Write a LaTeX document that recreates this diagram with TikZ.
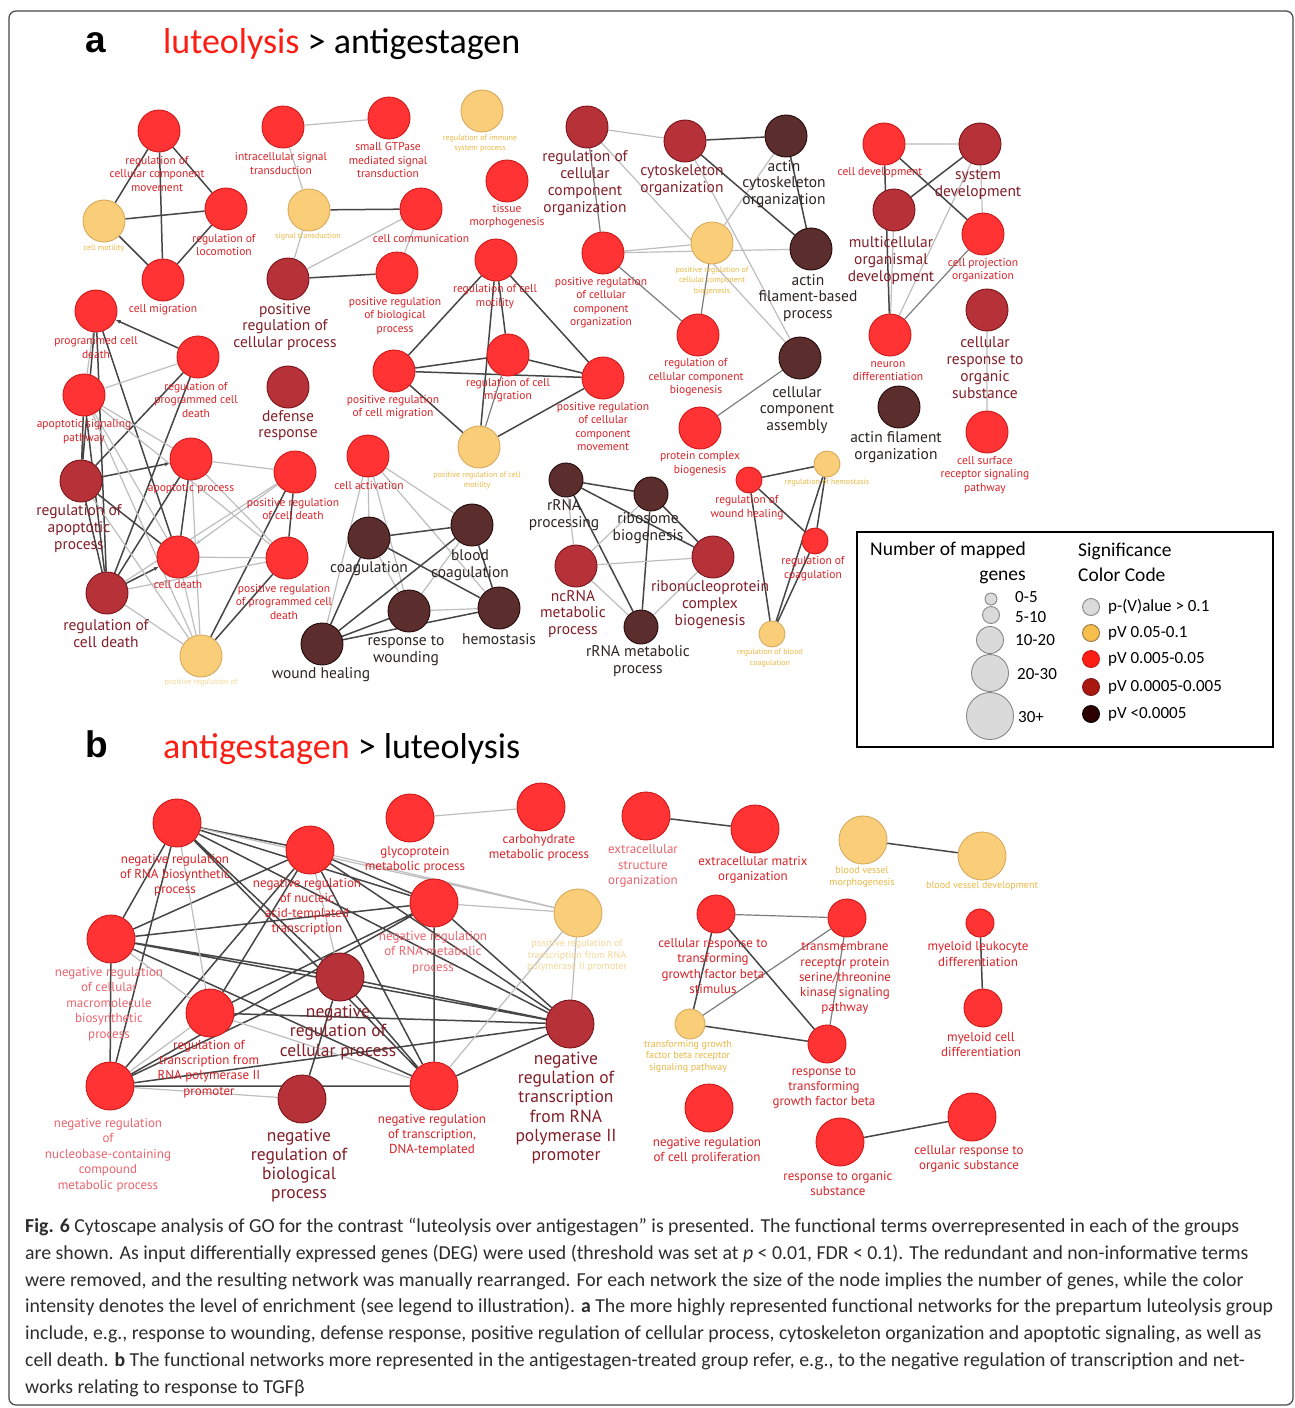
\documentclass[tikz,border=0pt]{standalone}
\usepackage{fontspec}
\usepackage{tikz}
\usetikzlibrary{arrows.meta,backgrounds}
\newfontfamily\lblfont{PT Sans}
\newfontfamily\capfont{Carlito}
\newfontfamily\hdfont{Liberation Sans}
\definecolor{csred}{RGB}{255,51,51}
\definecolor{csredline}{RGB}{205,25,25}
\definecolor{csdred}{RGB}{183,50,56}
\definecolor{csdredline}{RGB}{120,20,25}
\definecolor{csdark}{RGB}{92,45,45}
\definecolor{csdarkline}{RGB}{35,10,10}
\definecolor{csyel}{RGB}{250,205,120}
\definecolor{csyelline}{RGB}{215,170,95}
\definecolor{cstxtred}{RGB}{215,35,40}
\definecolor{cstxtdred}{RGB}{130,30,40}
\definecolor{cstxtdark}{RGB}{45,35,35}
\definecolor{cstxtyel}{RGB}{235,185,70}
\definecolor{cstxtpale}{RGB}{245,215,150}
\definecolor{cstxtpink}{RGB}{235,100,110}
\definecolor{csedge}{RGB}{70,70,70}
\definecolor{csedgemid}{RGB}{125,125,125}
\definecolor{csedgelt}{RGB}{190,190,190}
\definecolor{csgray}{RGB}{218,218,218}
\definecolor{csgrayline}{RGB}{135,135,135}
\definecolor{cslgyel}{RGB}{247,190,75}
\definecolor{cslgred}{RGB}{250,30,20}
\definecolor{cslgdred}{RGB}{170,25,15}
\definecolor{cslgdark}{RGB}{45,0,0}
\definecolor{cscap}{RGB}{45,45,45}

\begin{document}
\begin{tikzpicture}[x=1pt,y=-1pt,
  go/.style={circle,inner sep=0pt,line width=0.9pt,minimum size=42pt},
  nR/.style={go,fill=csred,draw=csredline},
  nD/.style={go,fill=csdred,draw=csdredline},
  nK/.style={go,fill=csdark,draw=csdarkline},
  nY/.style={go,fill=csyel,draw=csyelline},
  lb/.style={align=center,inner sep=0pt},
  tR/.style={lb,text=cstxtred,font=\lblfont\fontsize{11.5}{13.5}\selectfont},
  tD/.style={lb,text=cstxtdred,font=\lblfont\fontsize{15.5}{16.8}\selectfont},
  tK/.style={lb,text=cstxtdark,font=\lblfont\fontsize{15.5}{16.8}\selectfont},
  tY/.style={lb,text=cstxtyel,font=\lblfont\fontsize{8}{10.5}\selectfont},
  bR/.style={lb,text=cstxtred,font=\lblfont\fontsize{13}{15.2}\selectfont},
  bP/.style={lb,text=cstxtpink,font=\lblfont\fontsize{13}{15.4}\selectfont},
  bD/.style={lb,text=cstxtdred,font=\lblfont\fontsize{17.5}{19.3}\selectfont},
  bY/.style={lb,text=cstxtyel,font=\lblfont\fontsize{10}{11.7}\selectfont},
  lgG/.style={circle,inner sep=0pt,fill=csgray,draw=csgrayline,line width=0.9pt},
  lgC/.style={circle,inner sep=0pt,minimum size=17pt,line width=0.9pt},
  lgT/.style={anchor=west,inner sep=0pt,font=\capfont\fontsize{17}{18}\selectfont},
  ek/.style={line width=1.5pt,draw=csedge},
  eg/.style={line width=1.2pt,draw=csedgemid},
  el/.style={line width=1.2pt,draw=csedgelt},
  ar/.style={-{Latex[length=5pt,width=4pt]}}]

  \begin{pgfonlayer}{background}
    \fill[white] (0,0) rectangle (1295,1408);
  \end{pgfonlayer}
  \useasboundingbox (0,0) rectangle (1295,1408);
  \draw[rounded corners=7pt,line width=1.2pt,csedge] (9,11) rectangle (1293,1405);

  % Headings
  \node[font=\hdfont\bfseries\fontsize{37}{37}\selectfont,anchor=base west,inner sep=0pt] (heada) at (85,52) {a};
  \node[font=\capfont\fontsize{36}{36}\selectfont,anchor=base west,inner sep=0pt] (titlea) at (163,53)
    {\textcolor{cslgred}{luteolysis} > antigestagen};
  \node[font=\hdfont\bfseries\fontsize{37}{37}\selectfont,anchor=base west,inner sep=0pt] (headb) at (85,757) {b};
  \node[font=\capfont\fontsize{36}{36}\selectfont,anchor=base west,inner sep=0pt] (titleb) at (163,758)
    {\textcolor{cslgred}{antigestagen} > luteolysis};

  % Panel a: nodes
  \node[nR] (regmove) at (159,131) {};
  \node[nY] (cellmot) at (104,221) {};
  \node[nR] (regloc) at (226,209) {};
  \node[nR] (cellmig) at (163,280) {};
  \node[nR] (intrasig) at (283,127) {};
  \node[nR] (smallgtp) at (389,118) {};
  \node[nY] (regimm) at (482,111) {};
  \node[nY] (sigtrans) at (309,210) {};
  \node[nR] (cellcomm) at (421,209) {};
  \node[nR] (tissue) at (507,181) {};
  \node[nD] (posregcp) at (288,279) {};
  \node[nR] (posregbio) at (397,273) {};
  \node[nD] (defense) at (288,387) {};
  \node[nR] (progcd) at (96,311) {};
  \node[nR] (regprogcd) at (198,357) {};
  \node[nR] (apopsig) at (84,395) {};
  \node[nD] (regapop) at (81,481) {};
  \node[nR] (apopproc) at (191,459) {};
  \node[nR] (posregcd) at (295,472) {};
  \node[nR] (celldeath) at (178,557) {};
  \node[nR] (posregpcd) at (287,558) {};
  \node[nD] (regcd) at (107,593) {};
  \node[nY] (posregof) at (201,656) {};
  \node[nR] (regcellmot) at (496,260) {};
  \node[nR] (regcellmig) at (508,355) {};
  \node[nR] (posregcellmig) at (394,371) {};
  \node[nY] (posregmot) at (479,447) {};
  \node[nR] (posregccmove) at (603,378) {};
  \node[nD] (regccorg) at (587,127) {};
  \node[nD] (cytoskel) at (685,141) {};
  \node[nK] (actincyto) at (786,136) {};
  \node[nY] (posregccb) at (712,243) {};
  \node[nK] (actinfil) at (811,249) {};
  \node[nR] (posregccorg) at (603,253) {};
  \node[nR] (regccb) at (698,335) {};
  \node[nK] (cellcompass) at (800,358) {};
  \node[nR] (protcomp) at (700,428) {};
  \node[nR] (celldev) at (884,144) {};
  \node[nD] (sysdev) at (980,144) {};
  \node[nD] (multidev) at (894,210) {};
  \node[nR] (cellproj) at (983,234) {};
  \node[nR] (neuron) at (890,335) {};
  \node[nD] (cellresp) at (987,310) {};
  \node[nK] (actinfilorg) at (899,407) {};
  \node[nR] (cellsurf) at (987,432) {};
  \node[nR] (cellact) at (368,456) {};
  \node[nK] (coag) at (369,538) {};
  \node[nK] (blood) at (472,525) {};
  \node[nK] (resp2wound) at (409,611) {};
  \node[nK] (hemostasis) at (499,608) {};
  \node[nK] (woundheal) at (322,644) {};
  \node[nK,minimum size=34pt] (rrnaproc) at (566,480) {};
  \node[nK,minimum size=34pt] (ribo) at (651,494) {};
  \node[nD] (ncrna) at (576,566) {};
  \node[nD] (ribonuc) at (713,557) {};
  \node[nK,minimum size=34pt] (rrnamet) at (641,627) {};
  \node[nR,minimum size=26pt] (regwound) at (749,480) {};
  \node[nY,minimum size=26pt] (reghemo) at (827,464) {};
  \node[nR,minimum size=26pt] (regcoag) at (815,541) {};
  \node[nY,minimum size=26pt] (regblood) at (772,634) {};

  % Panel a: labels
  \node[tR] (regmove-l) at (157,173.5) {regulation of\\cellular component\\movement};
  \node[tY] (cellmot-l) at (104,248) {cell motility};
  \node[tR] (regloc-l) at (224,245) {regulation of\\locomotion};
  \node[tR] (cellmig-l) at (163,310) {cell migration};
  \node[tR] (intrasig-l) at (281,163.5) {intracellular signal\\transduction};
  \node[tR] (smallgtp-l) at (388,160) {small GTPase\\mediated signal\\transduction};
  \node[tY] (regimm-l) at (480,143.5) {regulation of immune\\system process};
  \node[tY] (sigtrans-l) at (308,237) {signal transduction};
  \node[tR] (cellcomm-l) at (421,238) {cell communication};
  \node[tR] (tissue-l) at (507,216) {tissue\\morphogenesis};
  \node[tD] (posregcp-l) at (285,327) {positive\\regulation of\\cellular process};
  \node[tR] (posregbio-l) at (395,316) {positive regulation\\of biological\\process};
  \node[tD] (defense-l) at (288,425.5) {defense\\response};
  \node[tR] (progcd-l) at (96,347.5) {programmed cell\\death};
  \node[tR] (regprogcd-l) at (196,399.5) {regulation of\\programmed cell\\death};
  \node[tR] (apopsig-l) at (84,431.5) {apoptotic signaling\\pathway};
  \node[tD] (regapop-l) at (79,528.5) {regulation of\\apoptotic\\process};
  \node[tR] (apopproc-l) at (191,489) {apoptotic process};
  \node[tR] (posregcd-l) at (293,509) {positive regulation\\of cell death};
  \node[tR] (celldeath-l) at (178,585) {cell death};
  \node[tR] (posregpcd-l) at (284,601.5) {positive regulation\\of programmed cell\\death};
  \node[tD] (regcd-l) at (106,633.5) {regulation of\\cell death};
  \node[tY,text=cstxtpale] (posregof-l) at (201,683) {positive regulation of};
  \node[tR] (regcellmot-l) at (495,296.5) {regulation of cell\\motility};
  \node[tR] (regcellmig-l) at (508,390) {regulation of cell\\migration};
  \node[tR] (posregcellmig-l) at (393,407) {positive regulation\\of cell migration};
  \node[tY] (posregmot-l) at (477,480.5) {positive regulation of cell\\motility};
  \node[tR] (posregccmove-l) at (603,426.5) {positive regulation\\of cellular\\component\\movement};
  \node[tD] (regccorg-l) at (585,183) {regulation of\\cellular\\component\\organization};
  \node[tD] (cytoskel-l) at (682,180.5) {cytoskeleton\\organization};
  \node[tK] (actincyto-l) at (784,184) {actin\\cytoskeleton\\organization};
  \node[tY] (posregccb-l) at (712,281) {positive regulation of\\cellular component\\biogenesis};
  \node[tK] (actinfil-l) at (808,298) {actin\\filament-based\\process};
  \node[tR] (posregccorg-l) at (601,302.5) {positive regulation\\of cellular\\component\\organization};
  \node[tR] (regccb-l) at (696,377.5) {regulation of\\cellular component\\biogenesis};
  \node[tK] (cellcompass-l) at (797,410) {cellular\\component\\assembly};
  \node[tR] (protcomp-l) at (700,463.5) {protein complex\\biogenesis};
  \node[tR] (celldev-l) at (880,173) {cell development};
  \node[tD] (sysdev-l) at (978,185) {system\\development};
  \node[tD] (multidev-l) at (891,260.5) {multicellular\\organismal\\development};
  \node[tR] (cellproj-l) at (983,270) {cell projection\\organization};
  \node[tR] (neuron-l) at (888,371) {neuron\\differentiation};
  \node[tD] (cellresp-l) at (985,367.5) {cellular\\response to\\organic\\substance};
  \node[tK] (actinfilorg-l) at (896,447.5) {actin filament\\organization};
  \node[tR] (cellsurf-l) at (985,475) {cell surface\\receptor signaling\\pathway};
  \node[tR] (cellact-l) at (369,485) {cell activation};
  \node[tK] (coag-l) at (369,569) {coagulation};
  \node[tK] (blood-l) at (470,565.5) {blood\\coagulation};
  \node[tK] (resp2wound-l) at (406,650.5) {response to\\wounding};
  \node[tK] (hemostasis-l) at (499,639) {hemostasis};
  \node[tK] (woundheal-l) at (321,675) {wound healing};
  \node[tK] (rrnaproc-l) at (564,515.5) {rRNA\\processing};
  \node[tK] (ribo-l) at (648,528.5) {ribosome\\biogenesis};
  \node[tD] (ncrna-l) at (573,614) {ncRNA\\metabolic\\process};
  \node[tD] (ribonuc-l) at (710,604.5) {ribonucleoprotein\\complex\\biogenesis};
  \node[tK] (rrnamet-l) at (638,661) {rRNA metabolic\\process};
  \node[tR] (regwound-l) at (747,507.5) {regulation of\\wound healing};
  \node[tY] (reghemo-l) at (827,483) {regulation of hemostasis};
  \node[tR] (regcoag-l) at (813,568.5) {regulation of\\coagulation};
  \node[tY] (regblood-l) at (770,658) {regulation of blood\\coagulation};

  % Panel a: edges
  \begin{pgfonlayer}{background}
    \draw[ek] (regmove) -- (cellmot) (regmove) -- (regloc) (regmove) -- (cellmig)
      (cellmot) -- (regloc) (cellmot) -- (cellmig) (regloc) -- (cellmig);
    \draw[el] (intrasig) -- (smallgtp) (intrasig) -- (sigtrans) (sigtrans) -- (posregcp)
      (cellcomm) -- (posregcp) (cellcomm) -- (posregbio);
    \draw[ek] (sigtrans) -- (cellcomm) (posregcp) -- (posregbio);
    \draw[ek] (regcellmot) -- (posregcellmig) (regcellmot) -- (regcellmig) (regcellmot) -- (posregmot)
      (regcellmot) -- (posregccmove) (posregcellmig) -- (regcellmig) (posregcellmig) -- (posregccmove)
      (posregcellmig) -- (posregmot) (regcellmig) -- (posregccmove) (posregmot) -- (posregccmove);
    \draw[eg] (regcellmig) -- (posregmot);
    \draw[el] (regccorg) -- (cytoskel) (regccorg) -- (cellcompass) (cytoskel) -- (cellcompass)
      (actincyto) -- (posregccb) (posregccorg) -- (posregccb) (posregccorg) -- (actinfil);
    \draw[eg] (regccorg) -- (posregccorg) (posregccorg) -- (regccb) (cellcompass) -- (protcomp)
      (posregccb) -- (regccb);
    \draw[ek] (cytoskel) -- (actincyto) (cytoskel) -- (actinfil) (actincyto) -- (actinfil);
    \draw[el] (celldev) -- (sysdev) (sysdev) -- (cellproj) (sysdev) -- (neuron) (multidev) -- (neuron)
      (cellresp) -- (cellsurf);
    \draw[ek] (celldev) -- (neuron) (sysdev) -- (multidev) (celldev) -- (cellproj);
    \draw[eg] (cellproj) -- (neuron);
    % apoptosis cluster
    \draw[ek,ar] (regprogcd) -- (progcd);
    \draw[ek,ar] (regapop) -- (apopproc);
    \draw[el,ar] (posregcd) -- (celldeath);
    \draw[ek,ar] (regcd) -- (celldeath);
    \draw[ek] (progcd) -- (regapop) (progcd) -- (regcd) (progcd) -- (celldeath)
      (regprogcd) -- (regapop) (regprogcd) -- (regcd) (apopsig) -- (regapop) (apopsig) -- (regcd)
      (regapop) -- (celldeath) (regapop) -- (regcd) (apopproc) -- (celldeath) (apopproc) -- (regcd)
      (posregcd) -- (posregpcd) (posregcd) -- (posregof) (posregpcd) -- (posregof);
    \draw[el] (progcd) -- (apopsig) (regprogcd) -- (apopsig) (apopsig) -- (apopproc)
      (apopsig) -- (celldeath) (apopsig) -- (posregof) (apopsig) -- (posregpcd)
      (regapop) -- (posregof) (apopproc) -- (posregcd) (apopproc) -- (posregpcd)
      (apopproc) -- (posregof) (posregcd) -- (regcd) (celldeath) -- (posregpcd)
      (celldeath) -- (posregof) (posregpcd) -- (regcd) (regcd) -- (posregof);
    % coagulation cluster
    \draw[el] (cellact) -- (coag) (cellact) -- (woundheal) (cellact) -- (resp2wound)
      (cellact) -- (blood) (cellact) -- (hemostasis) (coag) -- (resp2wound)
      (blood) -- (resp2wound) (resp2wound) -- (hemostasis);
    \draw[ek] (coag) -- (blood) (coag) -- (hemostasis) (coag) -- (woundheal)
      (blood) -- (woundheal) (blood) -- (hemostasis) (woundheal) -- (resp2wound)
      (woundheal) -- (hemostasis);
    % rRNA cluster
    \draw[ek] (rrnaproc) -- (ribo) (rrnaproc) -- (rrnamet) (rrnaproc) -- (ribonuc)
      (ribo) -- (rrnamet) (ribo) -- (ribonuc);
    \draw[el] (rrnaproc) -- (ncrna) (ribo) -- (ncrna) (ncrna) -- (ribonuc) (ncrna) -- (rrnamet)
      (ribonuc) -- (rrnamet);
    \draw[ek] (regwound) -- (reghemo) (regwound) -- (regcoag) (regwound) -- (regblood)
      (reghemo) -- (regcoag) (reghemo) -- (regblood) (regcoag) -- (regblood);
  \end{pgfonlayer}

  % Legend
  \draw[line width=2.5pt] (857,532) rectangle (1273,747);
  \node[font=\capfont\fontsize{19.5}{25}\selectfont,align=right,inner sep=0pt] (lgsize) at (948,562.5)
    {Number of mapped\\genes};
  \node[font=\capfont\fontsize{19.5}{25}\selectfont,align=left,anchor=west,inner sep=0pt] (lgcol) at (1078,562.5)
    {Significance\\Color Code};
  \node[lgG,minimum size=12pt] (sz1) at (991,599) {};
  \node[lgG,minimum size=17pt] (sz2) at (991,615) {};
  \node[lgG,minimum size=27pt] (sz3) at (990,640) {};
  \node[lgG,minimum size=37pt] (sz4) at (990,673) {};
  \node[lgG,minimum size=47pt] (sz5) at (990,716) {};
  \node[lgT] (sz1-l) at (1015,597) {0-5};
  \node[lgT] (sz2-l) at (1015,617) {5-10};
  \node[lgT] (sz3-l) at (1015,640) {10-20};
  \node[lgT] (sz4-l) at (1017,674) {20-30};
  \node[lgT] (sz5-l) at (1018,717) {30+};
  \node[lgC,fill=csgray,draw=csgrayline] (col1) at (1091,607) {};
  \node[lgC,fill=cslgyel,draw=csyelline!70!black] (col2) at (1091,633) {};
  \node[lgC,fill=cslgred,draw=csredline] (col3) at (1091,659) {};
  \node[lgC,fill=cslgdred,draw=csdredline] (col4) at (1091,687) {};
  \node[lgC,fill=cslgdark,draw=black] (col5) at (1091,714) {};
  \node[lgT] (col1-l) at (1108,607) {p-(V)alue > 0.1};
  \node[lgT] (col2-l) at (1108,633) {pV 0.05-0.1};
  \node[lgT] (col3-l) at (1108,659) {pV 0.005-0.05};
  \node[lgT] (col4-l) at (1108,687) {pV 0.0005-0.005};
  \node[lgT] (col5-l) at (1108,714) {pV <0.0005};

  % Panel b: nodes
  \node[nR,minimum size=48pt] (negrnabio) at (177,823) {};
  \node[nR,minimum size=48pt] (negnucleic) at (310,850) {};
  \node[nR,minimum size=48pt] (glycoprot) at (410,818) {};
  \node[nR,minimum size=48pt] (carbo) at (541,807) {};
  \node[nR,minimum size=48pt] (negrnamet) at (434,903) {};
  \node[nY,minimum size=48pt] (posregtx) at (578,913) {};
  \node[nR,minimum size=48pt] (negmacro) at (111,939) {};
  \node[nD,minimum size=48pt] (negcell) at (340,977) {};
  \node[nR,minimum size=48pt] (regtxpol) at (210,1013) {};
  \node[nD,minimum size=48pt] (negtxpol) at (570,1024) {};
  \node[nR,minimum size=48pt] (negnucbase) at (110,1086) {};
  \node[nD,minimum size=48pt] (negbio) at (302,1099) {};
  \node[nR,minimum size=48pt] (negtxdna) at (434,1086) {};
  \node[nR,minimum size=48pt] (extrastruct) at (646,816) {};
  \node[nR,minimum size=48pt] (extramatrix) at (755,829) {};
  \node[nY,minimum size=48pt] (bvmorph) at (863,840) {};
  \node[nY,minimum size=48pt] (bvdev) at (982,856) {};
  \node[nR,minimum size=38pt] (cellresptgf) at (716,914) {};
  \node[nR,minimum size=38pt] (transmem) at (847,918) {};
  \node[nR,minimum size=28pt] (myleuk) at (980,923) {};
  \node[nY,minimum size=30pt] (tgfbrec) at (690,1024) {};
  \node[nR,minimum size=38pt] (resptgf) at (827,1044) {};
  \node[nR,minimum size=38pt] (mycell) at (983,1008) {};
  \node[nR,minimum size=48pt] (negprolif) at (709,1108) {};
  \node[nR,minimum size=48pt] (resporg) at (840,1142) {};
  \node[nR,minimum size=48pt] (cellresporg) at (972,1117) {};

  % Panel b: labels
  \node[bR] (negrnabio-l) at (175,875) {negative regulation\\of RNA biosynthetic\\process};
  \node[bR] (negnucleic-l) at (307,906.5) {negative regulation\\of nucleic\\acid-templated\\transcription};
  \node[bR] (glycoprot-l) at (415,859.5) {glycoprotein\\metabolic process};
  \node[bR] (carbo-l) at (539,847.5) {carbohydrate\\metabolic process};
  \node[bP] (negrnamet-l) at (433,952.5) {negative regulation\\of RNA metabolic\\process};
  \node[bY,text=cstxtpale] (posregtx-l) at (577,955.5) {positive regulation of\\transcription from RNA\\polymerase II promoter};
  \node[bP] (negmacro-l) at (109,1004) {negative regulation\\of cellular\\macromolecule\\biosynthetic\\process};
  \node[bD] (negcell-l) at (338,1032.5) {negative\\regulation of\\cellular process};
  \node[bR] (regtxpol-l) at (209,1069) {regulation of\\transcription from\\RNA polymerase II\\promoter};
  \node[bD] (negtxpol-l) at (566,1108) {negative\\regulation of\\transcription\\from RNA\\polymerase II\\promoter};
  \node[bP] (negnucbase-l) at (108,1155) {negative regulation\\of\\nucleobase-containing\\compound\\metabolic process};
  \node[bD] (negbio-l) at (299,1165.5) {negative\\regulation of\\biological\\process};
  \node[bR] (negtxdna-l) at (432,1135) {negative regulation\\of transcription,\\DNA-templated};
  \node[bP] (extrastruct-l) at (643,866) {extracellular\\structure\\organization};
  \node[bR] (extramatrix-l) at (753,870) {extracellular matrix\\organization};
  \node[bY] (bvmorph-l) at (862,877) {blood vessel\\morphogenesis};
  \node[bY] (bvdev-l) at (982,886) {blood vessel development};
  \node[bR] (cellresptgf-l) at (713,966) {cellular response to\\transforming\\growth factor beta\\stimulus};
  \node[bR] (transmem-l) at (845,978) {transmembrane\\receptor protein\\serine/threonine\\kinase signaling\\pathway};
  \node[bR] (myleuk-l) at (978,954) {myeloid leukocyte\\differentiation};
  \node[bY] (tgfbrec-l) at (688,1056.5) {transforming growth\\factor beta receptor\\signaling pathway};
  \node[bR] (resptgf-l) at (824,1088) {response to\\transforming\\growth factor beta};
  \node[bR] (mycell-l) at (981,1044.5) {myeloid cell\\differentiation};
  \node[bR] (negprolif-l) at (707,1150.5) {negative regulation\\of cell proliferation};
  \node[bR] (resporg-l) at (838,1183.5) {response to organic\\substance};
  \node[bR] (cellresporg-l) at (969,1158.5) {cellular response to\\organic substance};

  % Panel b: edges
  \begin{pgfonlayer}{background}
    \draw[el] (glycoprot) -- (carbo);
    \draw[ek] (extrastruct) -- (extramatrix) (bvmorph) -- (bvdev) (myleuk) -- (mycell)
      (resporg) -- (cellresporg);
    \draw[eg] (cellresptgf) -- (transmem) (transmem) -- (tgfbrec) (transmem) -- (resptgf);
    \draw[ek] (cellresptgf) -- (tgfbrec) (cellresptgf) -- (resptgf) (tgfbrec) -- (resptgf);
    \draw[ek] (negrnabio) -- (negnucleic) (negrnabio) -- (negrnamet) (negrnabio) -- (negmacro)
      (negrnabio) -- (negnucbase) (negrnabio) -- (negtxdna) (negrnabio) -- (negtxpol)
      (negrnabio) -- (negcell) (negnucleic) -- (negrnamet) (negnucleic) -- (negmacro)
      (negnucleic) -- (negnucbase) (negnucleic) -- (negtxpol) (negnucleic) -- (negtxdna)
      (negnucleic) -- (regtxpol) (negrnamet) -- (negmacro) (negrnamet) -- (negnucbase)
      (negrnamet) -- (regtxpol) (negrnamet) -- (negtxdna) (negrnamet) -- (negtxpol)
      (negmacro) -- (negcell) (negmacro) -- (negtxpol) (negmacro) -- (negtxdna)
      (negmacro) -- (negnucbase) (negcell) -- (negnucbase) (negcell) -- (negtxpol)
      (negcell) -- (negbio) (negcell) -- (negtxdna) (regtxpol) -- (negtxpol)
      (negtxpol) -- (negtxdna) (negnucbase) -- (negtxdna) (negnucbase) -- (negtxpol);
    \draw[el] (negrnabio) -- (regtxpol) (negrnabio) -- (posregtx) (negnucleic) -- (negcell)
      (negnucleic) -- (posregtx) (negrnamet) -- (posregtx) (negmacro) -- (regtxpol)
      (regtxpol) -- (negnucbase) (regtxpol) -- (negtxdna) (negtxdna) -- (posregtx)
      (negtxpol) -- (posregtx) (negnucbase) -- (negbio);
  \end{pgfonlayer}

  % Caption
  \node[font=\capfont\fontsize{19.8}{26.8}\selectfont,text=cscap,anchor=north west,align=left,inner sep=0pt] (caption) at (25,1218)
    {\textbf{Fig. 6} Cytoscape analysis of GO for the contrast “luteolysis over antigestagen” is presented. The functional terms overrepresented in each of the groups\\
     are shown. As input differentially expressed genes (DEG) were used (threshold was set at \textit{p} < 0.01, FDR < 0.1). The redundant and non-informative terms\\
     were removed, and the resulting network was manually rearranged. For each network the size of the node implies the number of genes, while the color\\
     intensity denotes the level of enrichment (see legend to illustration). \textbf{a} The more highly represented functional networks for the prepartum luteolysis group\\
     include, e.g., response to wounding, defense response, positive regulation of cellular process, cytoskeleton organization and apoptotic signaling, as well as\\
     cell death. \textbf{b} The functional networks more represented in the antigestagen-treated group refer, e.g., to the negative regulation of transcription and net-\\
     works relating to response to TGFβ};
\end{tikzpicture}
\end{document}
